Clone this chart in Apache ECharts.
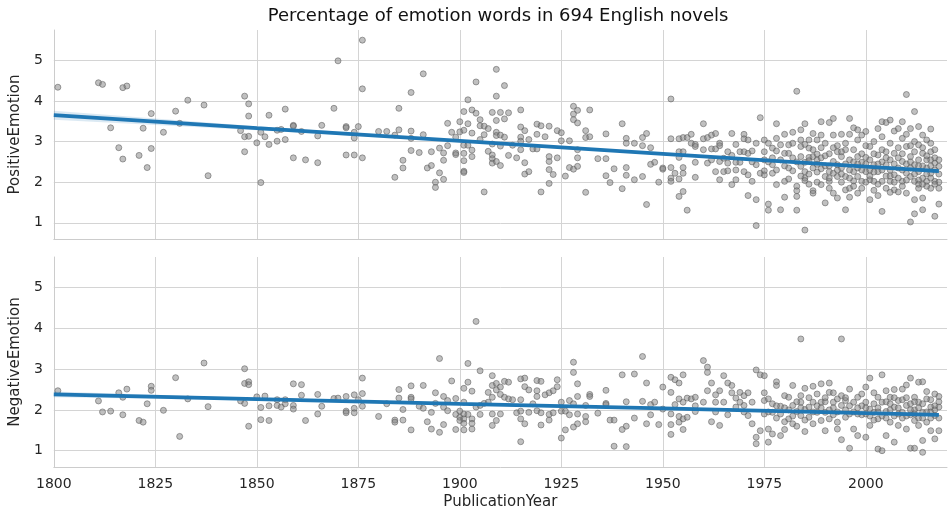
<!DOCTYPE html>
<html>
<head>
<meta charset="utf-8">
<script src="https://cdn.jsdelivr.net/npm/echarts@6.0.0/dist/echarts.min.js"></script>
<style>
html, body { margin: 0; padding: 0; background: #fff; }
#echart_box { width: 950px; height: 514px; }
</style>
</head>
<body>
<div id="echart_box"></div>
<script>
// [year, percentage]
let positiveEmotion = [
    [1801,4.34],[1811,4.45],[1812,4.41],[1814,3.34],[1816,2.85],[1817,2.57],[1817,4.33],[1818,4.37],[1821,2.66],[1822,3.33],
    [1823,2.36],[1824,3.69],[1824,2.83],[1827,3.23],[1830,3.75],[1831,3.45],[1833,4.02],[1837,3.9],[1838,2.16],[1846,3.27],
    [1847,4.12],[1847,3.12],[1847,2.75],[1848,3.93],[1848,3.63],[1848,3.13],[1850,2.97],[1851,1.99],[1851,3.23],[1852,3.12],
    [1853,3.65],[1853,2.93],[1855,3.28],[1855,3.01],[1856,3.3],[1857,3.8],[1857,3.05],[1859,3.4],[1859,3.38],[1859,2.6],
    [1861,3.25],[1862,2.55],[1865,3.14],[1865,2.48],[1866,3.4],
    [1869,3.82],[1870,4.99],[1872,3.37],[1872,3.34],[1872,2.67],[1874,3.23],[1874,3.09],[1874,2.67],[1875,3.37],[1876,5.5],
    [1876,4.3],[1876,2.6],[1880,3.25],[1882,3.25],[1884,2.12],[1884,3.16],[1885,3.82],[1885,3.29],[1886,2.54],[1886,2.35],
    [1888,4.21],[1888,3.26],[1888,3.08],[1888,2.78],[1890,2.73],[1891,4.67],[1891,3.17],[1892,2.35],[1893,2.41],[1893,2.75],
    [1894,2.0],[1894,1.87],[1895,2.84],[1895,2.23],[1896,2.72],[1896,2.54],[1896,2.07],[1897,3.45],[1897,2.9],[1898,3.23],
    [1899,3.11],[1899,2.72],[1899,2.68],[1900,3.49],[1900,3.24],[1901,3.74],[1901,3.28],[1901,2.91],[1901,2.71],[1901,2.53],
    [1901,2.27],[1901,2.24],[1902,4.03],[1902,3.44],[1902,2.91],[1903,3.78],[1903,3.21],[1903,2.79],[1903,2.63],[1904,4.47],
    [1904,3.7],[1905,3.54],[1905,3.39],[1905,3.05],[1906,3.38],[1906,1.76],[1906,3.17],[1907,3.32],[1907,2.76],[1908,3.72],
    [1908,2.94],[1908,2.67],[1908,2.58],[1908,2.47],[1909,4.78],[1909,4.12],[1909,3.52],[1909,3.23],[1909,3.15],[1909,2.51],
    [1910,3.72],[1910,3.16],[1910,2.89],[1910,2.41],[1911,4.38],[1911,3.56],[1911,3.11],[1912,3.71],[1912,2.66],[1913,2.91],
    [1914,2.6],[1915,3.78],[1915,3.36],[1915,3.11],[1915,3.01],[1915,2.8],[1916,3.27],[1916,2.48],[1916,2.2],[1917,3.05],
    [1917,2.26],[1918,2.82],[1919,3.43],[1919,3.18],[1919,2.82],[1920,3.39],[1920,1.76],[1921,3.12],[1922,3.38],[1922,2.63],
    [1922,2.51],[1922,2.31],[1922,1.97],[1923,2.19],[1924,3.27],[1924,2.6],[1925,3.22],[1925,3.02],[1926,2.15],[1927,3.02],
    [1927,2.36],[1928,3.87],[1928,3.68],[1928,3.54],[1928,2.32],[1929,3.77],[1929,3.46],[1929,2.8],[1929,2.6],[1929,2.39],
    [1931,3.27],[1931,3.1],[1931,1.75],[1932,3.78],[1932,3.12],[1934,2.58],[1936,3.19],[1936,2.58],[1936,2.16],[1937,1.99],
    [1938,2.33],[1940,3.44],[1940,1.84],
    [1941,3.08],[1941,2.96],[1941,2.36],[1941,2.17],[1943,2.96],[1943,2.06],[1945,3.1],[1945,2.9],[1945,2.14],[1946,3.2],
    [1946,1.45],[1947,2.85],[1947,2.44],[1948,2.49],[1949,2.0],[1950,2.35],[1950,2.32],[1952,4.05],[1952,3.07],[1952,2.36],
    [1952,2.1],[1952,2.02],[1953,2.22],[1954,3.07],[1954,2.75],[1954,2.61],[1954,2.08],[1954,1.65],[1955,3.1],[1955,2.75],
    [1955,2.36],[1955,2.22],[1955,1.77],[1956,3.1],[1956,1.31],[1957,3.18],[1957,2.96],[1958,2.93],[1958,2.88],[1958,2.49],
    [1958,2.12],[1960,3.44],[1960,3.07],[1960,2.8],[1961,3.1],[1961,2.47],[1962,3.16],[1962,2.82],[1962,2.55],[1963,3.2],
    [1963,2.82],[1963,2.26],[1964,2.96],[1964,2.9],[1964,2.51],[1964,2.06],[1965,2.59],[1965,2.26],[1966,2.75],[1966,2.47],
    [1966,2.28],[1967,3.2],[1967,1.94],[1967,2.66],[1968,2.93],[1968,2.49],[1968,2.06],[1969,2.75],[1969,2.49],[1970,3.18],
    [1970,3.07],[1970,2.75],[1970,2.26],[1971,3.04],[1971,2.71],[1971,2.18],[1971,1.67],[1972,2.77],[1972,2.02],[1973,2.96],
    [1973,2.43],[1973,1.57],[1973,0.93],[1974,3.59],[1974,2.22],[1975,3.04],[1975,2.75],[1975,2.55],
    [1975,2.28],[1975,2.18],[1976,2.96],[1976,1.46],[1976,1.31],[1977,2.84],[1977,2.43],[1977,2.22],[1978,3.44],[1978,3.08],
    [1978,2.77],[1978,1.94],[1979,2.92],[1979,1.32],[1980,3.18],[1980,2.71],[1980,2.02],[1980,1.63],[1981,2.92],[1981,2.71],
    [1981,2.08],[1982,3.23],[1982,2.96],[1982,2.28],[1983,4.24],[1983,1.9],[1983,1.79],[1983,1.65],[1983,1.31],[1984,3.29],
    [1984,3.04],[1984,2.88],[1984,2.63],[1984,2.39],[1985,3.44],[1985,2.93],[1985,2.49],[1985,2.26],[1985,2.1],[1985,2.04],
    [1985,0.82],[1986,3.04],[1986,2.84],[1986,2.61],[1986,2.53],[1987,3.2],[1987,2.8],[1987,2.63],[1987,1.79],[1987,1.73],
    [1988,3.04],[1988,2.69],[1988,2.55],[1988,2.44],[1989,3.49],[1989,3.16],[1989,2.33],[1989,1.94],[1990,2.96],[1990,2.14],
    [1990,1.49],[1991,3.47],[1991,2.26],[1991,2.02],[1991,1.85],[1992,3.57],[1992,3.16],[1992,2.85],[1992,2.51],[1992,2.22],
    [1992,1.73],[1993,2.75],[1993,2.43],[1993,2.14],[1993,1.61],[1994,3.18],[1994,2.63],[1994,2.35],[1994,2.0],[1995,2.96],
    [1995,2.8],[1995,2.14],[1995,1.81],[1995,1.32],[1996,3.57],[1996,3.18],[1996,2.55],[1996,1.85],[1996,1.63],[1997,3.34],
    [1997,2.8],[1997,2.26],[1997,2.03],[1998,3.29],[1998,3.04],[1998,2.63],[1998,2.14],[1998,1.73],[1999,3.16],[1999,2.49],
    [1999,2.02],[1999,1.85],[2000,3.25],[2000,2.9],[2000,2.61],[2000,2.26],[2001,2.88],[2001,2.55],[2001,2.06],[2001,1.57],
    [2002,3.0],[2002,2.43],[2002,2.02],[2003,3.32],[2003,2.67],[2003,2.26],[2003,1.67],[2004,3.49],[2004,3.12],[2004,2.8],
    [2004,2.02],[2004,1.28],[2005,3.47],[2005,2.75],[2005,2.43],[2005,1.85],[2006,3.53],[2006,2.96],[2006,2.55],[2006,2.02],
    [2007,3.26],[2007,2.71],[2007,2.18],[2007,1.81],[2008,3.32],[2008,2.85],[2008,2.35],[2008,1.76],[2009,3.49],[2009,3.08],
    [2009,2.51],[2009,2.02],[2010,4.16],[2010,3.18],[2010,2.88],[2010,2.22],[2010,1.73],[2011,3.32],[2011,2.63],[2011,2.14],
    [2011,1.02],[2012,3.74],[2012,3.0],[2012,2.43],[2012,2.02],[2012,1.57],[2012,1.22],[2013,3.37],[2013,2.92],[2013,2.55],
    [2013,2.26],[2013,1.85],[2014,3.16],[2014,2.71],[2014,2.1],[2014,1.61],[2014,1.32],[2015,3.04],[2015,2.55],[2015,2.35],
    [2015,2.02],[2016,3.31],[2016,2.96],[2016,2.75],[2016,2.22],[2016,1.85],[2017,2.47],[2017,2.02],[2017,1.16],[2018,2.39],
    [2018,1.85],[2018,1.46],
    [1986,2.2],[1988,2.0],[1989,2.6],[1990,2.4],[1991,2.7],[1993,2.9],[1994,2.2],[1995,2.45],[1996,2.3],[1997,2.5],
    [1998,2.35],[1999,2.7],[2000,2.0],[2001,2.3],[2002,2.7],[2003,1.95],[2004,2.5],[2005,2.15],[2006,2.3],[2007,2.45],
    [2008,2.1],[2009,2.7],[2010,2.45],[2011,2.9],[2011,2.35],[2012,2.75],[2013,2.05],[2014,2.85],[2014,2.4],[2015,2.2],
    [2015,1.9],[2016,2.55],[2016,2.1],[2017,2.3],[2017,2.8],[2018,2.0],[2018,2.2],[2013,1.95],[2009,1.9],[2006,1.75],
    [2002,1.8],[1999,2.3],[1991,2.4],[1987,2.35],[1983,2.5],[1980,2.4],[1978,2.3],[1977,2.6],[1972,2.5],[1968,2.3],
    [1976,2.5],[1979,2.55],[1981,2.35],[1982,2.6],[1984,2.15],[1986,1.95],[1988,2.25],[1989,2.85],[1990,2.65],[1991,2.1],
    [1993,2.3],[1994,2.75],[1996,2.1],[1997,1.9],[1998,2.45],[2000,2.45],[2001,2.15],[2002,2.25],[2003,2.45],[2004,2.3],
    [2005,2.6],[2006,2.15],[2007,2.0],[2008,2.6],[2009,2.3],[2010,2.05],[2011,2.5],[2012,2.2],[2013,2.4],[2014,1.95],
    [2015,2.65],[2016,2.4],[2017,2.6],[2018,2.55],[2017,1.95]
]
let negativeEmotion = [
    [1801,2.47],[1811,2.22],[1812,1.95],[1814,1.97],[1816,2.42],[1817,2.31],[1817,1.88],[1818,2.51],[1821,1.74],[1822,1.7],
    [1823,2.15],[1824,2.58],[1824,2.48],[1827,1.99],[1830,2.79],[1831,1.35],[1833,2.27],[1837,3.15],[1838,2.08],[1846,2.22],
    [1847,3.01],[1847,2.65],[1847,2.16],[1848,2.69],[1848,2.62],[1848,1.6],[1850,2.32],[1851,2.06],[1851,1.76],[1852,2.34],
    [1853,2.1],[1853,1.74],[1855,2.11],[1855,2.25],[1856,2.07],[1857,2.25],[1857,2.15],[1859,2.64],[1859,2.11],[1859,2.02],
    [1861,2.62],[1861,2.36],[1862,1.74],[1865,2.38],[1865,1.9],[1866,2.09],
    [1869,2.28],[1870,2.29],[1872,2.33],[1872,1.97],[1872,1.93],[1874,2.37],[1874,2.04],[1874,1.93],[1875,2.25],[1876,2.78],
    [1876,2.4],[1876,2.09],[1880,1.84],[1882,2.15],[1884,1.75],[1884,1.7],[1885,2.5],[1885,2.29],[1886,2.01],[1886,1.75],
    [1888,2.59],[1888,2.31],[1888,2.27],[1888,1.51],[1890,2.09],[1891,2.6],[1891,2.04],[1892,1.71],[1893,1.94],[1893,1.53],
    [1894,2.42],[1894,2.16],[1895,3.26],[1895,1.45],[1896,2.33],[1896,2.07],[1896,1.64],[1897,2.23],[1897,1.98],[1898,2.71],
    [1899,2.28],[1899,1.89],[1899,1.52],[1900,1.97],[1900,1.82],[1900,1.74],[1901,2.53],[1901,2.19],[1901,1.9],[1901,1.78],
    [1901,1.67],[1901,1.51],[1902,3.14],[1902,2.68],[1902,1.89],[1903,2.46],[1903,1.78],[1903,1.67],[1903,1.53],[1904,4.17],
    [1904,2.07],[1905,2.96],[1905,2.11],[1905,1.89],[1906,2.16],[1907,2.43],[1907,2.19],[1908,2.84],[1908,2.6],[1908,2.31],
    [1908,1.9],[1908,1.62],[1909,2.65],[1909,2.49],[1909,1.74],[1910,2.56],[1910,2.38],[1910,1.9],[1911,2.7],[1911,2.31],
    [1912,2.68],[1912,2.27],[1913,2.25],[1914,1.93],[1915,2.76],[1915,2.25],[1915,1.97],[1915,1.78],[1915,1.22],[1916,2.78],
    [1916,2.57],[1916,1.66],[1917,2.49],[1917,1.94],[1918,2.15],[1919,2.72],[1919,2.47],[1919,2.33],[1919,1.98],[1920,2.7],
    [1920,1.93],[1920,1.63],[1921,2.37],[1922,2.42],[1922,1.89],[1922,1.75],[1923,2.47],[1923,1.93],[1924,2.57],[1924,2.74],
    [1925,2.19],[1925,1.97],[1925,1.31],[1926,1.97],[1926,1.51],[1927,2.23],[1927,1.88],[1928,3.17],[1928,2.92],[1928,2.15],
    [1928,1.58],[1929,2.64],[1929,2.33],[1929,1.9],[1929,1.66],[1931,2.11],[1931,1.84],[1931,1.71],[1932,2.38],[1932,2.33],
    [1934,1.92],[1936,2.48],[1936,2.16],[1936,2.13],[1937,1.75],[1938,1.11],[1938,1.75],[1940,2.86],[1940,1.52],
    [1941,2.2],[1941,1.6],[1941,1.1],[1943,2.88],[1943,1.8],[1945,3.31],[1945,2.21],[1946,2.66],[1946,1.66],[1947,2.13],
    [1947,1.88],[1948,2.19],[1949,1.64],[1950,2.56],[1950,2.02],[1952,2.8],[1952,2.43],[1952,1.9],[1952,1.64],[1952,1.4],
    [1953,2.74],[1953,2.13],[1954,2.66],[1954,2.27],[1954,1.84],[1954,1.7],[1955,2.86],[1955,2.19],[1955,1.78],[1955,1.52],
    [1956,2.29],[1956,1.82],[1957,2.27],[1958,2.31],[1958,1.96],[1960,3.21],[1960,2.19],[1961,3.05],[1961,2.92],[1961,2.47],
    [1962,2.66],[1962,1.71],[1963,2.37],[1963,2.19],[1964,2.47],[1964,1.62],[1965,2.84],[1965,2.19],[1966,2.66],[1966,1.88],
    [1967,2.6],[1967,2.42],[1968,2.29],[1968,2.07],[1969,2.43],[1969,2.19],[1970,2.35],[1970,2.11],[1971,2.42],[1971,1.86],
    [1972,2.19],[1972,1.66],[1973,2.98],[1973,1.33],[1973,1.17],[1974,2.86],[1974,1.49],[1975,2.42],
    [1975,2.84],[1975,2.23],[1975,1.9],[1976,2.27],[1976,1.53],[1976,1.21],[1977,1.94],[1977,1.41],[1978,2.69],[1978,2.6],
    [1978,1.8],[1979,2.09],[1979,1.37],[1980,2.35],[1980,1.71],[1980,1.52],[1981,2.31],[1981,1.78],[1982,2.6],[1982,2.11],
    [1982,1.66],[1983,1.96],[1983,1.6],[1984,3.74],[1984,2.35],[1984,2.19],[1984,1.86],[1985,2.53],[1985,2.01],[1985,1.47],
    [1986,2.07],[1986,1.82],[1987,2.58],[1987,2.19],[1987,1.66],[1988,2.39],[1988,1.94],[1989,2.64],[1989,2.19],[1989,1.74],
    [1990,1.94],[1990,1.49],[1991,2.66],[1991,2.43],[1991,1.78],[1992,2.42],[1992,2.19],[1992,1.88],[1993,2.27],[1993,1.7],
    [1993,1.53],[1994,3.74],[1994,2.11],[1994,1.27],[1995,2.23],[1995,1.82],[1996,2.51],[1996,1.9],[1996,1.06],[1997,2.19],
    [1997,1.53],[1998,2.31],[1998,1.9],[1998,1.37],[1999,2.39],[1999,1.88],[2000,2.56],[2000,2.19],[2000,1.33],[2001,2.78],
    [2001,2.02],[2001,1.62],[2002,2.42],[2002,1.94],[2003,2.31],[2003,1.78],[2003,1.04],[2004,2.86],[2004,2.19],[2004,1.0],
    [2005,2.47],[2005,1.96],[2005,1.37],[2006,2.31],[2006,1.7],[2007,2.5],[2007,2.07],[2007,1.21],[2008,2.23],[2008,1.62],
    [2009,2.51],[2009,1.94],[2010,2.61],[2010,2.11],[2010,1.53],[2011,2.78],[2011,1.88],[2011,1.06],[2012,2.31],[2012,1.74],
    [2012,1.06],[2013,2.68],[2013,2.19],[2013,1.62],[2014,2.69],[2014,1.94],[2014,1.25],[2014,0.96],[2015,2.27],[2015,1.7],
    [2016,2.07],[2016,1.49],[2017,2.39],[2017,1.86],[2017,1.29],[2018,2.33],[2018,2.07],[2018,1.49],
    [1986,2.3],[1988,2.1],[1990,2.2],[1992,2.05],[1994,2.35],[1995,2.0],[1997,1.95],[1999,2.1],[2000,1.9],[2002,2.15],
    [2003,2.05],[2004,1.85],[2005,2.2],[2006,2.0],[2007,1.85],[2008,2.05],[2009,2.25],[2010,1.85],[2011,2.15],[2012,2.0],
    [2013,1.8],[2014,2.15],[2015,1.95],[2015,2.45],[2016,2.25],[2016,1.8],[2017,2.1],[2018,1.8],[1983,2.2],[1981,2.0],
    [1979,1.9],[1977,2.15],[1970,1.95],[1963,1.95],[1958,2.1],
    [1976,1.95],[1978,2.1],[1980,2.05],[1982,1.85],[1984,2.05],[1985,1.75],[1987,1.95],[1989,2.05],[1990,2.3],[1991,2.0],
    [1993,1.95],[1995,2.3],[1996,2.1],[1998,2.05],[2000,2.05],[2001,1.85],[2002,1.75],[2003,1.95],[2005,1.8],[2006,2.15],
    [2007,2.3],[2008,1.9],[2009,1.8],[2010,2.3],[2011,2.0],[2012,2.2],[2013,2.05],[2014,1.8],[2016,1.95],[2017,2.0],
    [2018,2.2],[2012,1.9]
]

// regression line and its confidence band, read at these years
let fitYears = [1800, 1850, 1900, 1950, 2000, 2018]
let positiveFit = [3.65, 3.33, 3.017, 2.70, 2.384, 2.27]
let positiveLow = [3.54, 3.28, 2.99, 2.675, 2.35, 2.22]
let positiveHigh = [3.76, 3.38, 3.045, 2.725, 2.42, 2.32]
let negativeFit = [2.38, 2.265, 2.15, 2.036, 1.92, 1.88]
let negativeLow = [2.31, 2.235, 2.13, 2.02, 1.905, 1.855]
let negativeHigh = [2.45, 2.295, 2.17, 2.05, 1.935, 1.905]

let xTicks = [1800, 1825, 1850, 1875, 1900, 1925, 1950, 1975, 2000]

let fontName = 'DejaVu Sans'
let gridColor = '#d4d4d4'

function makeXAxis(index, showLabel){
    return {
        type: 'value',
        gridIndex: index,
        min: 1800,
        max: 2020,
        interval: 25,
        name: showLabel ? 'PublicationYear' : '',
        nameLocation: 'middle',
        nameGap: 28,
        nameTextStyle: { fontFamily: fontName, fontSize: 15, color: '#262626' },
        axisLine: { show: true, lineStyle: { color: '#cccccc', width: 1 } },
        axisTick: { show: false },
        axisLabel: {
            show: showLabel,
            margin: 10,
            fontFamily: fontName,
            fontSize: 14,
            color: '#262626',
            formatter: function(v){
                return xTicks.indexOf(v) >= 0 ? String(v) : ''
            }
        },
        splitLine: { show: true, showMaxLine: false, lineStyle: { color: gridColor, width: 1 } }
    }
}
function makeYAxis(index, title){
    return {
        type: 'value',
        gridIndex: index,
        min: 0.6,
        max: 5.75,
        minInterval: 1,
        maxInterval: 1,
        name: title,
        nameLocation: 'middle',
        nameGap: 26,
        nameTextStyle: { fontFamily: fontName, fontSize: 15, color: '#262626' },
        axisLine: { show: true, lineStyle: { color: '#cccccc', width: 1 } },
        axisTick: { show: false },
        axisLabel: {
            margin: 11,
            fontFamily: fontName,
            fontSize: 14,
            color: '#262626',
            formatter: function(v){
                return Number.isInteger(v) ? String(v) : ''
            }
        },
        splitLine: { show: true, showMinLine: false, showMaxLine: false, lineStyle: { color: gridColor, width: 1 } }
    }
}
function bandSeries(index, low, high){
    return {
        type: 'custom',
        xAxisIndex: index,
        yAxisIndex: index,
        silent: true,
        z: 3,
        data: [[fitYears[0], low[0]]],
        renderItem: function(params, api){
            let pts = []
            for (let i = 0; i < fitYears.length; i++) pts.push(api.coord([fitYears[i], high[i]]))
            for (let i = fitYears.length - 1; i >= 0; i--) pts.push(api.coord([fitYears[i], low[i]]))
            return { type: 'polygon', shape: { points: pts }, style: { fill: 'rgba(31,119,180,0.16)' } }
        }
    }
}
function scatterSeries(index, data){
    return {
        type: 'scatter',
        xAxisIndex: index,
        yAxisIndex: index,
        data: data,
        symbolSize: 6,
        z: 2,
        itemStyle: {
            color: 'rgba(128,128,128,0.62)',
            borderColor: 'rgba(95,95,95,0.8)',
            borderWidth: 0.9
        }
    }
}
function fitSeries(index, values){
    return {
        type: 'line',
        xAxisIndex: index,
        yAxisIndex: index,
        data: fitYears.map((y, i) => [y, values[i]]),
        showSymbol: false,
        z: 4,
        lineStyle: { color: '#1f77b4', width: 3.8 }
    }
}

let myChart = echarts.init(document.getElementById('echart_box'), null, { renderer: 'canvas' })
let option = {
    animation: false,
    backgroundColor: '#ffffff',
    title: {
        text: 'Percentage of emotion words in 694 English novels',
        left: 493,
        textAlign: 'center',
        top: 2,
        padding: 5,
        textStyle: { fontFamily: fontName, fontSize: 18, fontWeight: 'normal', color: '#111111' }
    },
    grid: [
        { left: 49, top: 30, width: 898, height: 209 },
        { left: 49, top: 257, width: 898, height: 210 }
    ],
    xAxis: [makeXAxis(0, false), makeXAxis(1, true)],
    yAxis: [makeYAxis(0, 'PositiveEmotion'), makeYAxis(1, 'NegativeEmotion')],
    series: [
        scatterSeries(0, positiveEmotion),
        bandSeries(0, positiveLow, positiveHigh),
        fitSeries(0, positiveFit),
        scatterSeries(1, negativeEmotion),
        bandSeries(1, negativeLow, negativeHigh),
        fitSeries(1, negativeFit)
    ]
}
myChart.setOption(option)
</script>
</body>
</html>
